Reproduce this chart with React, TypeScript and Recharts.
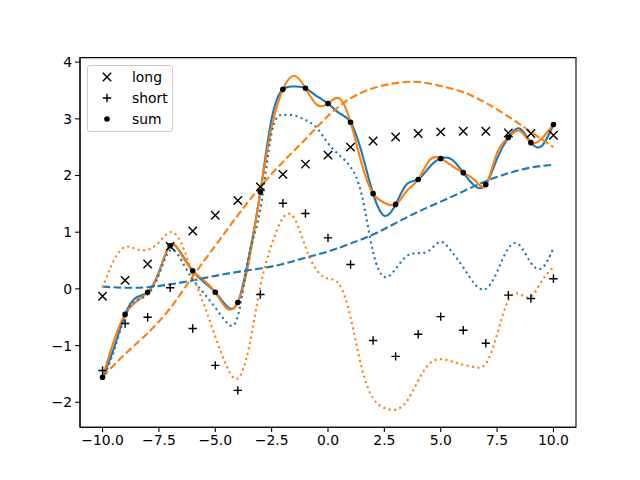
import React from 'react';
import { ComposedChart, Line, Scatter, XAxis, YAxis, ReferenceArea } from 'recharts';

// observation points
const obsX = [-10, -9, -8, -7, -6, -5, -4, -3, -2, -1, 0, 1, 2, 3, 4, 5, 6, 7, 8, 9, 10];
const longValues = [-0.13, 0.15, 0.44, 0.75, 1.02, 1.3, 1.56, 1.8, 2.02, 2.2, 2.36, 2.5, 2.61, 2.68, 2.74, 2.77, 2.78, 2.78, 2.75, 2.74, 2.71];
const shortValues = [-1.44, -0.61, -0.5, 0.02, -0.7, -1.35, -1.79, -0.1, 1.51, 1.33, 0.9, 0.43, -0.91, -1.19, -0.8, -0.49, -0.73, -0.96, -0.11, -0.17, 0.18];
const sumValues = [-1.56, -0.45, -0.06, 0.76, 0.32, -0.06, -0.24, 1.71, 3.52, 3.54, 3.27, 2.94, 1.68, 1.49, 1.93, 2.3, 2.05, 1.84, 2.67, 2.58, 2.9];

// smooth curves, read every half step
const fineX = [
  -10, -9.5, -9, -8.5, -8, -7.5, -7, -6.5, -6, -5.5, -5, -4.5, -4, -3.5, -3, -2.5, -2, -1.5, -1, -0.5, 0,
  0.5, 1, 1.5, 2, 2.5, 3, 3.5, 4, 4.5, 5, 5.5, 6, 6.5, 7, 7.5, 8, 8.5, 9, 9.5, 10,
];
const blueSolid = [
  -1.56, -1.05, -0.45, -0.15, -0.06, 0.3, 0.76, 0.62, 0.32, 0.12, -0.06, -0.3, -0.24, 0.58, 1.71, 3.0, 3.52, 3.57, 3.54, 3.4, 3.27,
  3.1, 2.94, 2.4, 1.68, 1.29, 1.49, 1.85, 1.93, 2.15, 2.3, 2.28, 2.05, 1.82, 1.84, 2.3, 2.67, 2.83, 2.58, 2.53, 2.9,
];
const orangeSolid = [
  -1.56, -0.92, -0.45, -0.22, -0.06, 0.28, 0.78, 0.6, 0.32, 0.15, -0.06, -0.34, -0.24, 0.5, 1.71, 2.85, 3.52, 3.76, 3.54, 3.25, 3.27,
  3.36, 2.94, 2.2, 1.68, 1.52, 1.49, 1.73, 1.93, 2.27, 2.3, 2.17, 2.05, 1.92, 1.84, 2.4, 2.67, 2.79, 2.58, 2.66, 2.9,
];
const blueDotted = [
  -1.6, -1.1, -0.48, -0.2, -0.1, 0.25, 0.68, 0.5, 0.17, -0.08, -0.33, -0.59, -0.48, 0.6, 1.4, 2.75, 3.07, 3.06, 2.98, 2.84, 2.57,
  2.36, 2.15, 1.65, 0.65, 0.21, 0.35, 0.58, 0.63, 0.68, 0.83, 0.65, 0.38, 0.09, 0.0, 0.3, 0.72, 0.77, 0.46, 0.37, 0.72,
];
const orangeDotted = [
  0.02, 0.5, 0.74, 0.7, 0.69, 0.82, 1.0, 0.8, 0.25, -0.28, -0.84, -1.36, -1.58, -1.02, 0.05, 0.78, 1.25, 1.25, 0.74, 0.33, 0.18,
  0.08, -0.5, -1.4, -1.93, -2.1, -2.13, -1.98, -1.62, -1.32, -1.24, -1.28, -1.34, -1.38, -1.32, -0.8, -0.2, -0.09, -0.14, 0.15, 0.38,
];
const blueDashed = [0.04, 0.02, 0.03, 0.08, 0.15, 0.23, 0.3, 0.36, 0.44, 0.55, 0.66, 0.8, 0.96, 1.16, 1.36, 1.54, 1.72, 1.9, 2.04, 2.14, 2.19];
const orangeDashed = [-1.55, -1.15, -0.78, -0.34, 0.22, 0.76, 1.3, 1.8, 2.24, 2.64, 3.05, 3.36, 3.54, 3.63, 3.65, 3.58, 3.47, 3.28, 3.04, 2.77, 2.5];

const xTicks = [-10, -7.5, -5, -2.5, 0, 2.5, 5, 7.5, 10];
const yTicks = [-2, -1, 0, 1, 2, 3, 4];

const BLUE = '#1f77b4';
const ORANGE = '#ff7f0e';
const FONT = 'DejaVu Sans, sans-serif';

const rows = (xs: number[], ys: number[]) => xs.map((x, i) => ({ x, y: ys[i] }));

const minus = (s: string) => s.replace('-', '\u2212');

const CrossMark = ({ cx, cy }: any) => {
  const s = 4.2;
  return (
    <path d={`M${cx - s},${cy - s}L${cx + s},${cy + s}M${cx - s},${cy + s}L${cx + s},${cy - s}`} stroke="#000" strokeWidth={1.4} />
  );
};

const PlusMark = ({ cx, cy }: any) => {
  const s = 4.2;
  return <path d={`M${cx - s},${cy}L${cx + s},${cy}M${cx},${cy - s}L${cx},${cy + s}`} stroke="#000" strokeWidth={1.4} />;
};

const DotMark = ({ cx, cy }: any) => <circle cx={cx} cy={cy} r={2.1} fill="#000" stroke="#000" strokeWidth={1.4} />;

const legendItems = [
  { name: 'long', Mark: CrossMark },
  { name: 'short', Mark: PlusMark },
  { name: 'sum', Mark: DotMark },
];

const LegendBox = () => (
  <div
    style={{
      position: 'absolute',
      left: 87,
      top: 65,
      width: 84,
      height: 65,
      border: '1px solid #cccccc',
      borderRadius: 3,
      background: 'rgba(255,255,255,0.8)',
      fontFamily: FONT,
      fontSize: 13.9,
      color: '#000',
    }}
  >
    {legendItems.map(({ name, Mark }, i) => (
      <div key={name} style={{ position: 'absolute', left: 0, top: 3 + i * 21, height: 20, width: 84 }}>
        <svg width={30} height={20} style={{ position: 'absolute', left: 4, top: 0 }}>
          <Mark cx={15} cy={8} />
        </svg>
        <span style={{ position: 'absolute', left: 44, top: -1, lineHeight: '18px' }}>{name}</span>
      </div>
    ))}
  </div>
);

const App: React.FC = () => {
  const tickStyle = { fill: '#000', fontSize: 13.9, fontFamily: FONT };
  return (
    <div style={{ position: 'absolute', left: 0, top: 0, width: 640, height: 480, background: '#fff' }}>
      <ComposedChart width={640} height={480} margin={{ top: 57.6, right: 64, bottom: 22.8, left: 40 }}>
        <XAxis
          type="number"
          dataKey="x"
          domain={[-11, 11]}
          ticks={xTicks}
          allowDataOverflow
          tickFormatter={(v: number) => minus(v.toFixed(1))}
          tick={tickStyle}
          tickLine={{ stroke: '#000', strokeWidth: 1.1 }}
          axisLine={{ stroke: '#000', strokeWidth: 1.1 }}
          tickSize={4.9}
          tickMargin={3}
          height={30}
        />
        <YAxis
          type="number"
          dataKey="y"
          domain={[-2.44, 4.08]}
          ticks={yTicks}
          allowDataOverflow
          tickFormatter={(v: number) => minus(String(v))}
          tick={tickStyle}
          tickLine={{ stroke: '#000', strokeWidth: 1.1 }}
          axisLine={{ stroke: '#000', strokeWidth: 1.1 }}
          tickSize={4.9}
          tickMargin={3}
          width={40}
        />
        <ReferenceArea x1={-11} x2={11} y1={-2.44} y2={4.08} fill="none" stroke="#000" strokeWidth={1.1} />
        <Line data={rows(fineX, blueSolid)} dataKey="y" type="natural" stroke={BLUE} strokeWidth={2.1} dot={false} isAnimationActive={false} />
        <Line data={rows(fineX, orangeSolid)} dataKey="y" type="natural" stroke={ORANGE} strokeWidth={2.1} dot={false} isAnimationActive={false} />
        <Line data={rows(obsX, blueDashed)} dataKey="y" type="natural" stroke={BLUE} strokeWidth={2.1} strokeDasharray="7.7 3.3" dot={false} isAnimationActive={false} />
        <Line data={rows(obsX, orangeDashed)} dataKey="y" type="natural" stroke={ORANGE} strokeWidth={2.1} strokeDasharray="7.7 3.3" dot={false} isAnimationActive={false} />
        <Line data={rows(fineX, blueDotted)} dataKey="y" type="natural" stroke={BLUE} strokeWidth={2.1} strokeDasharray="2.1 3.4" dot={false} isAnimationActive={false} />
        <Line data={rows(fineX, orangeDotted)} dataKey="y" type="natural" stroke={ORANGE} strokeWidth={2.1} strokeDasharray="2.1 3.4" dot={false} isAnimationActive={false} />
        <Scatter data={rows(obsX, longValues)} dataKey="y" shape={CrossMark} isAnimationActive={false} />
        <Scatter data={rows(obsX, shortValues)} dataKey="y" shape={PlusMark} isAnimationActive={false} />
        <Scatter data={rows(obsX, sumValues)} dataKey="y" shape={DotMark} isAnimationActive={false} />
      </ComposedChart>
      <LegendBox />
    </div>
  );
};

export default App;
